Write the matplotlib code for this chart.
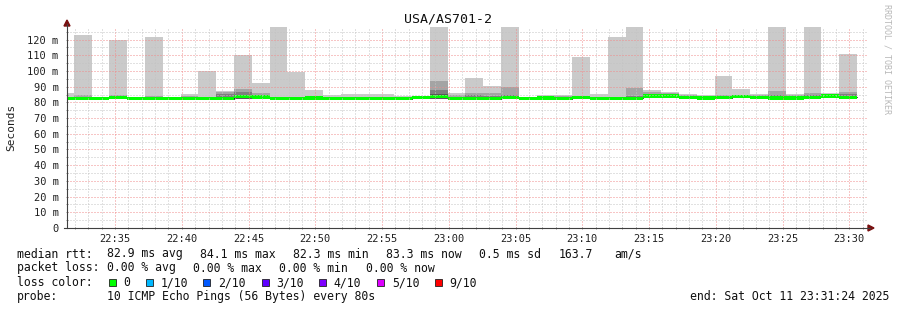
import numpy as np
import matplotlib.pyplot as plt
from matplotlib.patches import Rectangle, Polygon
from matplotlib.lines import Line2D

W, H = 897, 310
MONO = 'DejaVu Sans Mono'

# smokeping data, one entry per 80 s step (first one is partly off the left edge)
median = [82.6, 82.5, 82.5, 83.3, 82.3, 82.4, 82.3, 82.5, 82.4, 82.4,
          83.8, 83.4, 82.4, 82.3, 82.8, 82.3, 82.3, 82.3, 82.3, 82.3,
          83.3, 83.5, 82.6, 82.3, 82.3, 83.3, 82.3, 82.8, 82.3, 83.3,
          82.3, 82.3, 82.6, 84.1, 84.1, 83.0, 82.8, 83.0, 83.6, 83.0,
          82.8, 82.8, 83.3, 84.1, 83.3]
p10 = [85.8, 122.8, 83.5, 119.8, 83.5, 121.6, 82.8, 85.4, 100.0, 87.2,
       110.0, 92.2, 135.0, 99.2, 87.7, 85.0, 85.2, 85.2, 85.6, 84.2,
       84.1, 135.0, 85.8, 95.4, 90.5, 135.0, 83.3, 84.4, 84.7, 109.0,
       85.2, 121.6, 135.0, 87.7, 86.6, 85.5, 84.7, 96.9, 88.6, 85.6,
       135.0, 85.6, 135.0, 85.8, 110.7]
p9 = [83.5, 84.8, 83.0, 84.8, 83.2, 83.8, 82.5, 84.2, 83.5, 86.9,
      88.6, 85.8, 83.5, 83.0, 83.5, 83.6, 83.0, 83.0, 83.5, 83.0,
      83.8, 93.5, 84.5, 86.0, 86.0, 90.1, 82.8, 83.5, 84.0, 84.2,
      83.5, 83.3, 89.0, 86.5, 86.1, 84.8, 84.0, 84.8, 85.0, 84.8,
      87.1, 84.5, 85.8, 85.3, 86.8]
p8 = [83.0, 83.5, 82.8, 84.1, 82.8, 83.2, 82.3, 83.2, 83.0, 85.5,
      86.3, 84.5, 83.0, 82.6, 83.2, 83.0, 82.6, 82.8, 83.0, 82.6,
      83.6, 87.9, 83.5, 84.5, 84.1, 84.7, 82.5, 83.2, 83.5, 83.8,
      83.0, 82.8, 84.1, 85.5, 85.5, 84.0, 83.5, 84.0, 84.5, 84.0,
      84.5, 83.8, 84.5, 85.0, 85.5]
p7 = [82.6, 82.5, 82.5, 83.3, 82.3, 82.4, 82.3, 82.5, 82.4, 82.4,
      83.8, 83.4, 82.4, 82.3, 82.8, 82.3, 82.3, 82.3, 82.3, 82.3,
      83.3, 85.5, 82.6, 83.0, 83.3, 84.0, 82.3, 82.8, 83.2, 83.3,
      82.3, 82.3, 83.3, 84.1, 84.1, 83.0, 82.8, 83.0, 83.6, 83.0,
      82.8, 82.8, 83.3, 84.1, 84.2]
lo = [82.0, 81.9, 81.9, 82.7, 81.7, 81.8, 81.7, 81.9, 81.8, 81.8,
      82.0, 82.8, 81.8, 81.7, 82.2, 81.7, 81.7, 81.7, 81.7, 81.7,
      82.7, 82.2, 82.0, 81.7, 81.7, 82.7, 81.7, 82.2, 81.7, 82.7,
      81.7, 81.7, 82.0, 83.5, 83.5, 82.4, 82.2, 82.4, 83.0, 82.4,
      82.2, 82.2, 82.7, 83.5, 82.7]

x_major = list(range(35, 91, 5))          # minutes after 22:00
y_major = list(range(0, 121, 10))
loss_labels = ['0', '1/10', '2/10', '3/10', '4/10', '5/10', '9/10']
loss_colors = ['#00ff00', '#00b8ff', '#0059ff', '#5e00ff', '#7e00ff', '#dd00ff', '#ff0000']


def fx(x):
    return x / W


def fy(y):
    return 1 - y / H


fig = plt.figure(figsize=(W / 100, H / 100), dpi=100)
ax = fig.add_axes([fx(67), fy(228), 801 / W, 201 / H])

step = 80 / 60
start = 30 + 35 / 60
edges = start + step * np.arange(len(median) + 1)


def ext(a):
    a = np.asarray(a, dtype=float)
    return np.append(a, a[-1])


for top, col in [(p10, '#cacaca'), (p9, '#a4a4a4'), (p8, '#7e7e7e'), (p7, '#585858')]:
    ax.fill_between(edges, ext(lo), ext(top), step='post', color=col, lw=0,
                    antialiased=False, zorder=1)
ax.step(edges, ext(median), where='post', color='#202020', lw=0.6, zorder=1.5)
ax.fill_between(edges, ext(median) - 1.0, ext(median) + 1.0, step='post',
                color='#00ff00', lw=0, antialiased=False, zorder=2)

ax.set_xlim(31.4, 91.4)
ax.set_ylim(0, 128)
ax.set_xticks(x_major)
ax.set_xticklabels(['%d:%02d' % (22 + m // 60, m % 60) for m in x_major])
ax.set_xticks([m for m in range(32, 92) if m % 5], minor=True)
ax.set_yticks(y_major)
ax.set_yticklabels(['0'] + ['%d m' % v for v in y_major[1:]])
ax.set_yticks(list(range(5, 128, 10)), minor=True)

ax.set_axisbelow(False)
ax.grid(which='minor', color='#c4c4c4', ls=(0, (1, 2)), lw=0.72)
ax.grid(which='major', color='#f08c8c', ls=(0, (1, 2)), lw=0.72)
ax.tick_params(which='both', length=2, width=0.72, color='#909090', direction='inout',
               labelsize=7.5, labelcolor='#202020')
ax.tick_params(axis='y', pad=5)
ax.tick_params(axis='x', pad=3)
for lab in ax.get_xticklabels() + ax.get_yticklabels():
    lab.set_fontfamily(MONO)
for s in ax.spines.values():
    s.set_visible(False)

# axes with arrows
fig.add_artist(Line2D([fx(67), fx(67)], [fy(228), fy(24)], color='#404040', lw=0.8))
fig.add_artist(Line2D([fx(64), fx(870)], [fy(228), fy(228)], color='#404040', lw=0.8))
fig.add_artist(Polygon([[fx(64), fy(26)], [fx(70), fy(26)], [fx(67), fy(20)]],
                       closed=True, color='#7a1010', transform=fig.transFigure))
fig.add_artist(Polygon([[fx(868), fy(225)], [fx(868), fy(231)], [fx(874), fy(228)]],
                       closed=True, color='#7a1010', transform=fig.transFigure))

fig.text(fx(448), fy(19), 'USA/AS701-2', family=MONO, fontsize=9.5,
         ha='center', va='center', color='#101010')
fig.text(fx(11), fy(127), 'Seconds', family=MONO, fontsize=8, rotation=90,
         ha='center', va='center', color='#202020')
fig.text(fx(887), fy(4), 'RRDTOOL / TOBI OETIKER', family=MONO, fontsize=6,
         rotation=270, ha='center', va='top', color='#b8b8b8')

fs = 8.3
rows = [
    (254, [(16.7, 'median rtt:'), (107.3, '82.9 ms avg'), (200, '84.1 ms max'),
           (292.7, '82.3 ms min'), (386, '83.3 ms now'), (479.3, '0.5 ms sd'),
           (558.3, '163.7'), (614.3, 'am/s')]),
    (268, [(16.7, 'packet loss:'), (107.3, '0.00 % avg'), (193.3, '0.00 % max'),
           (279.3, '0.00 % min'), (366, '0.00 % now')]),
    (282.5, [(16.7, 'loss color:')]),
    (296.5, [(16.7, 'probe:'), (107.3, '10 ICMP Echo Pings (56 Bytes) every 80s')]),
]
for y, items in rows:
    for x, s in items:
        fig.text(fx(x), fy(y), s, family=MONO, fontsize=fs, ha='left', va='center',
                 color='#101010')
fig.text(fx(889), fy(296.5), 'end: Sat Oct 11 23:31:24 2025', family=MONO, fontsize=fs,
         ha='right', va='center', color='#101010')

sq_x = [108.7, 145.7, 203.3, 261.7, 319, 377.3, 435]
for sx, lab, col in zip(sq_x, loss_labels, loss_colors):
    fig.add_artist(Rectangle((fx(sx), fy(286)), 7 / W, 7 / H, transform=fig.transFigure,
                             facecolor=col, edgecolor='#202020', lw=0.6))
    fig.text(fx(sx + 14.7), fy(282.5), lab, family=MONO, fontsize=fs, ha='left',
             va='center', color='#101010')

fig.savefig('out.png', dpi=100)
